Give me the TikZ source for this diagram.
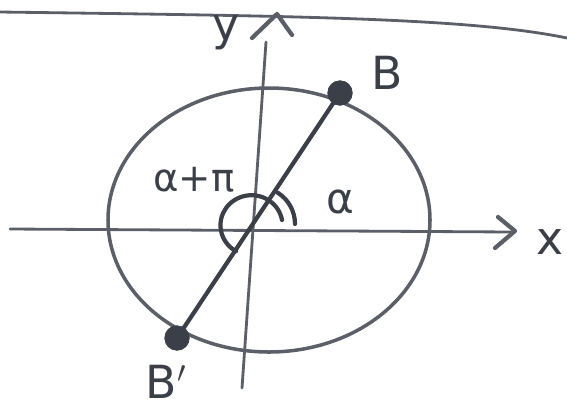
\documentclass[tikz,border=0pt]{standalone}
\usepackage{fontspec}
\usetikzlibrary{calc}
\setmainfont{DejaVu Sans}
\definecolor{ink}{HTML}{3A3F48}
\definecolor{inklight}{HTML}{5A5F68}
\begin{document}
\begin{tikzpicture}[x=0.02cm,y=-0.02cm,
  pen/.style={draw=ink,line width=2.4pt,line cap=round,line join=round},
  thinpen/.style={draw=inklight,line width=1.6pt,line cap=round,line join=round},
  lbl/.style={text=ink,inner sep=0pt,font=\fontsize{26}{30}\selectfont},
  dotnode/.style={circle,fill=ink,draw=ink,minimum size=14pt,inner sep=0pt}]
\useasboundingbox (0,0) rectangle (567,410);
% top line
\coordinate (tl) at (0,12);
\coordinate (tr) at (567,38);
\draw[thinpen] (tl) .. controls (300,16) and (470,18) .. (tr);
% axes
\coordinate (O) at (258,224);
\coordinate (L) at (252,225);
\coordinate (ytop) at (266,42);
\coordinate (ybot) at (242,388);
\coordinate (xleft) at (10,229);
\coordinate (xright) at (512,232);
\draw[thinpen] (ybot) -- (ytop);
\draw[thinpen] (xleft) -- (xright);
% arrow heads (hand drawn chevrons)
\coordinate (ya1) at (252,38);
\coordinate (yat) at (277,14);
\coordinate (ya2) at (292,35);
\draw[pen,draw=inklight] (ya1) -- (yat) -- (ya2);
\coordinate (xa1) at (498,217);
\coordinate (xat) at (515,231);
\coordinate (xa2) at (495,248);
\draw[pen,draw=inklight] (xa1) -- (xat) -- (xa2);
\node[lbl] (ylab) at (226,33) {y};
\node[lbl] (xlab) at (550,242) {x};
% circle
\coordinate (C) at (269,220);
\draw[thinpen,line width=2pt] (C) ellipse [x radius=161,y radius=132];
% points
\node[dotnode] (B) at (340,93) {};
\node[dotnode] (Bp) at (177,338) {};
\draw[pen] (Bp.center) -- (B.center);
\node[lbl] (Blab) at (387,73) {B};
\node[lbl] (Bplab) at (166,382) {B$'$};
% angle arcs
\draw[pen] ($(O)+(37,0)$) arc[start angle=0,end angle=-58,radius=37];
\draw[pen] ($(L)+(30,-5)$) arc[start angle=-10,end angle=-240,x radius=31,y radius=30];
\node[lbl,font=\fontsize{24}{28}\selectfont] (alab) at (340,202) {α};
\node[lbl,font=\fontsize{22}{26}\selectfont] (aplab) at (194,180) {α+π};
\end{tikzpicture}
\end{document}
